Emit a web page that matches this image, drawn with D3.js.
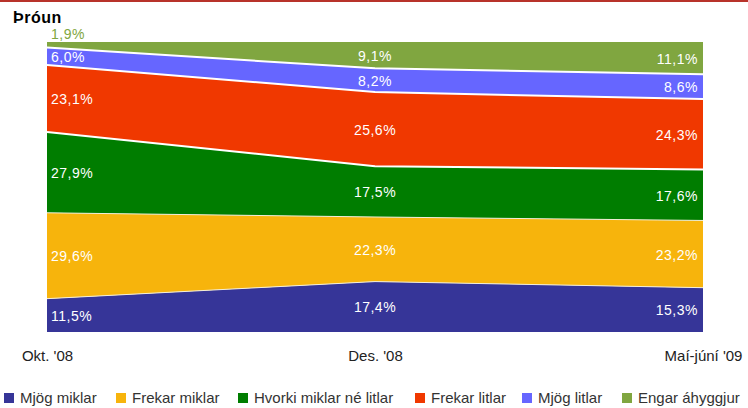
<html>
  <head>
    <title>Þróun</title>
    <style>
      html, body { margin: 0; padding: 0; background: #fff; }
      svg { display: block; font-family: "Liberation Sans", Arial, sans-serif; }
    </style>
  </head>
  <body>
<svg id="viz"></svg>
<script src="https://d3js.org/d3.v7.min.js"></script>
<script>
var width = 748;
var height = 408;

// data
var periods = ["Okt. '08", "Des. '08", "Maí-júní '09"];
var series = ["Mjög miklar", "Frekar miklar", "Hvorki miklar né litlar", "Frekar litlar", "Mjög litlar", "Engar áhyggjur"];
var mjogMiklar   = [11.5, 17.4, 15.3];
var frekarMiklar = [29.6, 22.3, 23.2];
var hvorki       = [27.9, 17.5, 17.6];
var frekarLitlar = [23.1, 25.6, 24.3];
var mjogLitlar   = [6.0, 8.2, 8.6];
var engar        = [1.9, 9.1, 11.1];
var colors = ["#363598", "#f7b40c", "#007d00", "#f03800", "#6666ff", "#80a640"];
var legendX = [4, 116, 238, 415, 522, 622];

var allValues = [mjogMiklar, frekarMiklar, hvorki, frekarLitlar, mjogLitlar, engar];

var rows = periods.map(function(p, i) {
    var r = {period: p};
    series.forEach(function(s, j) { r[s] = allValues[j][i]; });
    return r;
});

var stack = d3.stack().keys(series).offset(d3.stackOffsetExpand);
var layers = stack(rows);

var margin = {left: 47, right: 45, top: 42, bottom: 76};

var x = d3.scalePoint().domain(periods).range([margin.left, width - margin.right]);
var y = d3.scaleLinear().domain([0, 1]).range([height - margin.bottom, margin.top]);

var svg = d3.select("#viz").attr("width", width).attr("height", height);

// red strip along the top
svg.append("rect")
    .attr("x", 0).attr("y", 0)
    .attr("width", width).attr("height", 2)
    .attr("fill", "#b8332a");

svg.append("text")
    .attr("x", 13).attr("y", 23)
    .style("font-size", "16px")
    .style("font-weight", "bold")
    .style("letter-spacing", "0.5px")
    .attr("fill", "#000")
    .text("Þróun");

var area = d3.area()
    .x(function(d) { return x(d.data.period); })
    .y0(function(d) { return y(d[0]); })
    .y1(function(d) { return y(d[1]); });

var topLine = d3.line()
    .x(function(d) { return x(d.data.period); })
    .y(function(d) { return y(d[1]); });

svg.append("g").selectAll("path")
    .data(layers)
    .enter()
    .append("path")
    .attr("d", area)
    .attr("fill", function(d, i) { return colors[i]; });

// white separators between bands
svg.append("g").selectAll("path")
    .data(layers.slice(0, 5))
    .enter()
    .append("path")
    .attr("d", topLine)
    .attr("fill", "none")
    .attr("stroke", function(d, i) { return i < 2 ? "#f4eed8" : "#fff"; })
    .attr("stroke-width", function(d, i) { return i < 2 ? 1 : 2; });

// value labels
var labels = svg.append("g").style("font-size", "14px").style("letter-spacing", "0.5px");
layers.forEach(function(layer, j) {
    layer.forEach(function(d, i) {
        var last = i == periods.length - 1;
        var tx = i == 0 ? x(periods[i]) + 4 : (last ? x(periods[i]) - 5 : x(periods[i]));
        var anchor = i == 0 ? "start" : (last ? "end" : "middle");
        var ty = (y(d[0]) + y(d[1])) / 2;
        var fill = "#fff";
        if (i == 0 && j == series.length - 1) { ty = margin.top - 9; fill = colors[j]; }
        labels.append("text")
            .attr("x", tx)
            .attr("y", ty)
            .attr("dy", "0.4em")
            .attr("text-anchor", anchor)
            .attr("fill", fill)
            .text(d3.format(".1f")(allValues[j][i]).replace(".", ",") + "%");
    });
});

// x axis labels
var xAxis = d3.axisBottom(x).tickSize(0).tickPadding(18);
var gx = svg.append("g")
    .attr("transform", "translate(0," + (height - margin.bottom) + ")")
    .call(xAxis);
gx.select(".domain").remove();
gx.selectAll("text")
    .style("font-size", "15px")
    .style("font-family", "\"Liberation Sans\", Arial, sans-serif")
    .attr("fill", "#222");

// legend
var legend = svg.append("g").selectAll("g")
    .data(series)
    .enter()
    .append("g")
    .attr("transform", function(d, i) { return "translate(" + legendX[i] + ",393)"; });

legend.append("rect")
    .attr("width", 10).attr("height", 10)
    .attr("fill", function(d, i) { return colors[i]; });

legend.append("text")
    .attr("x", 16).attr("y", 10)
    .style("font-size", "15px")
    .attr("fill", "#333")
    .text(function(d) { return d; });
</script>
  </body>
</html>
